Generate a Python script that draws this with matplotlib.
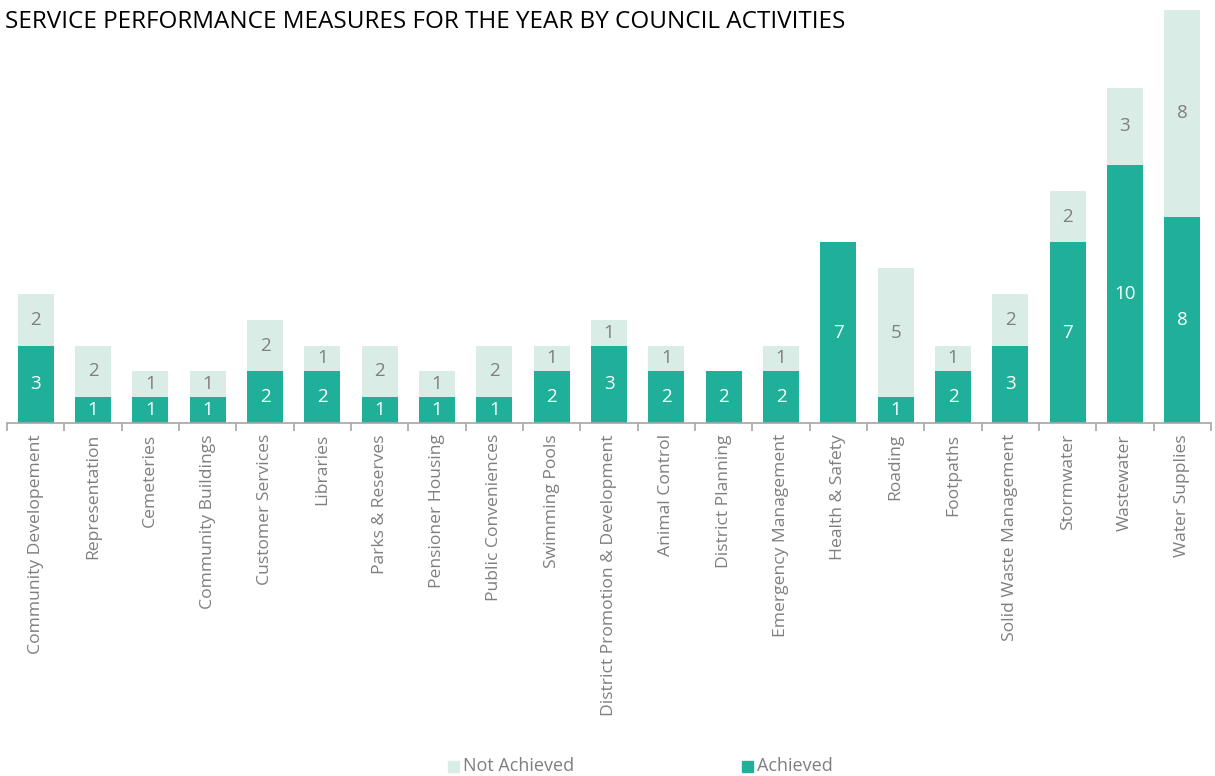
import numpy as np
import matplotlib.pyplot as plt
from matplotlib.patches import Rectangle

categories = ["Community Developement", "Representation", "Cemeteries", "Community Buildings",
              "Customer Services", "Libraries", "Parks & Reserves", "Pensioner Housing",
              "Public Conveniences", "Swimming Pools", "District Promotion & Development",
              "Animal Control", "District Planning", "Emergency Management", "Health & Safety",
              "Roading", "Footpaths", "Solid Waste Management", "Stormwater", "Wastewater",
              "Water Supplies"]
achieved = [3, 1, 1, 1, 2, 2, 1, 1, 1, 2, 3, 2, 2, 2, 7, 1, 2, 3, 7, 10, 8]
not_achieved = [2, 2, 1, 1, 2, 1, 2, 1, 2, 1, 1, 1, 0, 1, 0, 5, 1, 2, 2, 3, 8]

DARK = "#20B09A"
LIGHT = "#D9ECE6"
GREY = "#7F7F7F"
FONT = ["Open Sans", "DejaVu Sans"]
plt.rcParams['font.family'] = FONT

fig = plt.figure(figsize=(12.15, 7.76), dpi=100)
ax = fig.add_axes([0.0058, 0.4549, 0.9909, 0.532])

x = np.arange(len(categories))
ach = np.array(achieved)
nach = np.array(not_achieved)
ax.bar(x, ach, width=0.63, color=DARK, label="Achieved")
ax.bar(x, nach, width=0.63, bottom=ach, color=LIGHT, label="Not Achieved")

for i in x:
    if ach[i] > 0:
        ax.text(i, ach[i] / 2, str(ach[i]), ha="center", va="center",
                color="white", fontsize=13.5)
    if nach[i] > 0:
        ax.text(i, ach[i] + nach[i] / 2, str(nach[i]), ha="center", va="center",
                color=GREY, fontsize=13.5)

ax.set_xlim(-0.5, len(categories) - 0.5)
ax.set_ylim(0, 16)
for s in ["top", "right", "left"]:
    ax.spines[s].set_visible(False)
ax.spines["bottom"].set_color("#A6A6A6")
ax.spines["bottom"].set_linewidth(1.2)
ax.set_yticks([])

# category separators as ticks, names centred under bars
ax.set_xticks(np.arange(len(categories) + 1) - 0.5)
ax.set_xticklabels([])
ax.tick_params(axis="x", which="major", length=6, color="#A6A6A6", width=1.2)
ax.set_xticks(x, minor=True)
ax.set_xticklabels(categories, minor=True, rotation=90, color=GREY, fontsize=12.6)
ax.tick_params(axis="x", which="minor", length=0, pad=8)

fig.text(0.004, 0.972, "SERVICE PERFORMANCE MEASURES FOR THE YEAR BY COUNCIL ACTIVITIES",
         fontsize=17.5, color="black", va="center", ha="left")

# legend entries laid out along the bottom
for sx, label, col in [(448, "Not Achieved", LIGHT), (742, "Achieved", DARK)]:
    fig.patches.append(Rectangle((sx / 1215, (776 - 772) / 776), 11 / 1215, 11 / 776,
                                 transform=fig.transFigure, color=col, figure=fig))
    fig.text((sx + 15) / 1215, (776 - 766) / 776, label, fontsize=13, color=GREY,
             va="center", ha="left")

fig.savefig("out.png", dpi=100)
